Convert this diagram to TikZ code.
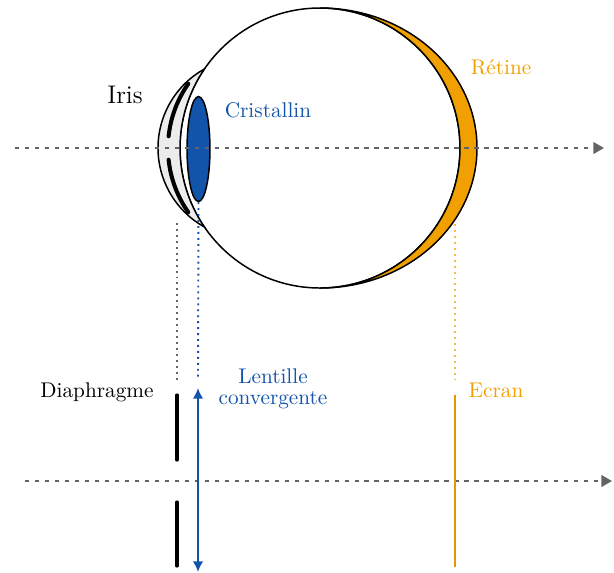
\documentclass[tikz,border=0pt]{standalone}
\usetikzlibrary{arrows.meta,shapes.geometric}

\definecolor{lensblue}{RGB}{18,84,170}
\definecolor{retinaorange}{RGB}{240,160,0}
\definecolor{axisgray}{RGB}{100,100,100}

\tikzset{
    axis line/.style={
        axisgray,
        line width=0.9pt,
        dash pattern=on 2pt off 2.7pt,
        -{Triangle[length=5pt,width=5.5pt]},
    },
    guide line/.style={
        line width=0.9pt,
        dash pattern=on 0.9pt off 1.9pt,
    },
    eye part/.style={
        draw=black,
        line width=0.7pt,
    },
    stop bar/.style={
        line width=1.5pt,
        line cap=round,
    },
    label/.style={
        inner sep=0,
        outer sep=0,
    },
}

\begin{document}
\begin{tikzpicture}[x=0.4707pt, y=-0.4707pt]

    \useasboundingbox (0,0) rectangle (614,572);

    % eyeball
    \draw[eye part, fill=white] (320,148) circle[radius=140];

    % retina crescent
    \draw[eye part, fill=retinaorange] (320,8)
        arc[start angle=-90, end angle=90, x radius=157, y radius=140]
        arc[start angle=90, end angle=-90, radius=140] -- cycle;

    % cornea
    \draw[eye part, fill=gray!15] (204.4,69)
        arc[start angle=240.86, end angle=119.14, radius=90.45]
        arc[start angle=145.65, end angle=214.35, radius=140] -- cycle;

    % iris
    \foreach \a/\b in {215/186, 174/145} {
        \draw[stop bar, line width=1.9pt] (280,148) ++(\a:112)
            arc[start angle=\a, end angle=\b, radius=112];
    }

    % crystalline lens
    \node[ellipse, eye part, fill=lensblue, inner sep=0,
          minimum width=10.8pt, minimum height=49.4pt] (cristallin) at (198.5,149) {};

    % retina foot and cornea foot for the guides
    \coordinate (retinafoot) at (455,224);
    \coordinate (corneafoot) at (177,223);

    % labels of the eye
    \node[label, font=\large] (iris) at (125,95) {Iris};
    \node[label, text=lensblue] (cristlabel) at (268,110) {Cristallin};
    \node[label, text=retinaorange] (retlabel) at (501,67) {Rétine};

    % optical axes
    \draw[axis line] (15,148) -- (604,148);
    \draw[axis line] (25,481) -- (612,481);

    % diaphragm
    \coordinate (diatop) at (177,395);
    \draw[stop bar] (diatop) -- (177,460);
    \draw[stop bar] (177,502) -- (177,566);

    % converging lens
    \coordinate (lenstop) at (198,388);
    \coordinate (lensbot) at (198,572);
    \draw[lensblue, line width=1pt, {Latex[length=5pt,width=5pt]}-{Latex[length=5pt,width=5pt]}]
        (lenstop) -- (lensbot);

    % screen
    \coordinate (screentop) at (455,395);
    \draw[retinaorange!95!black, line width=1.1pt] (screentop) -- (455,567);

    % guides between the eye and the model
    \draw[guide line, axisgray] (corneafoot) -- ([yshift=5.6pt]diatop);
    \draw[guide line, lensblue] (cristallin.south) -- ([yshift=4.2pt]lenstop);
    \draw[guide line, retinaorange!70] (retinafoot) -- ([yshift=7pt]screentop);

    % labels of the model
    \node[label] (dialabel) at (97,392) {Diaphragme};
    \node[label, text=lensblue, align=center] (lenslabel) at (273,389) {Lentille\\[-2pt]convergente};
    \node[label, text=retinaorange] (screenlabel) at (496,390) {Ecran};

\end{tikzpicture}
\end{document}
